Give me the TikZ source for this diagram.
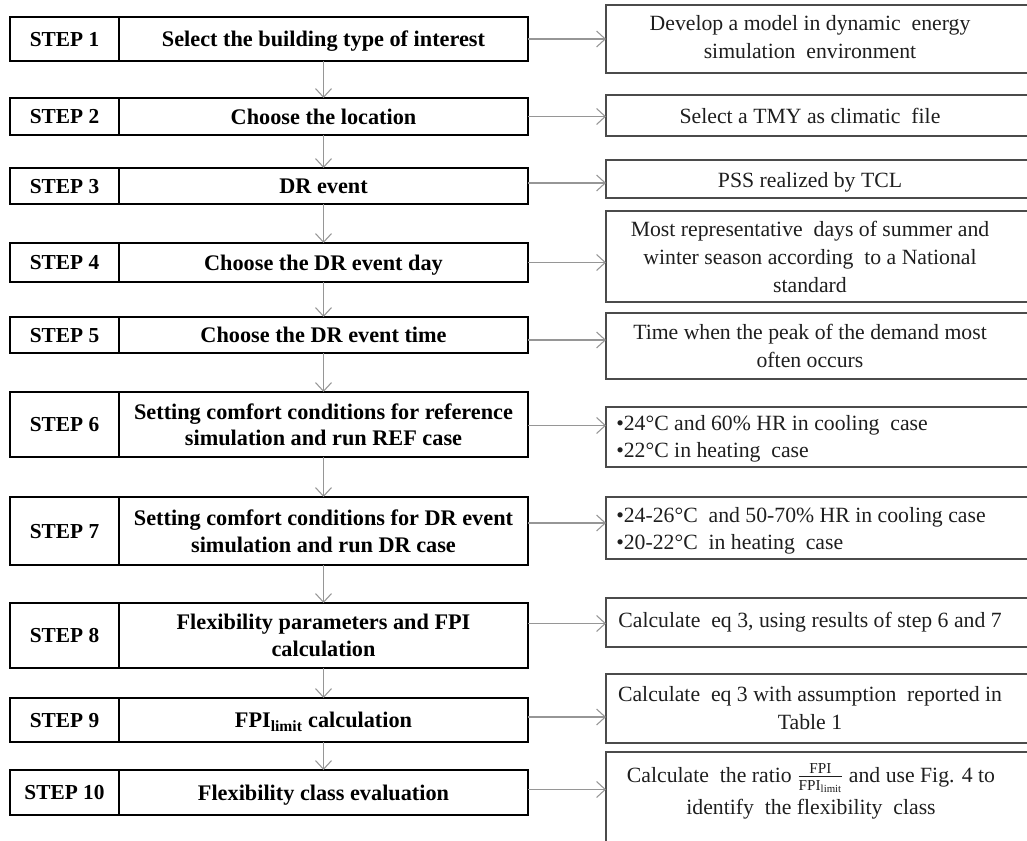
\documentclass[tikz,border=0pt]{standalone}
\usepackage{fontspec}
\setmainfont{Liberation Serif}
\usetikzlibrary{arrows.meta}
\definecolor{arrgray}{RGB}{150,150,150}
\definecolor{boxgray}{RGB}{75,75,75}
\definecolor{txtgray}{RGB}{30,30,30}
\newcommand\stepblock[4]{%
  \node[lab, minimum height={(#3-#2)*0.75pt}] (s#1) at (10,#2) {STEP #1};
  \node[mainb, minimum height={(#3-#2)*0.75pt}] (m#1) at (119,#2) {#4};}
\newcommand\rblock[5]{%
  \node[rbox, minimum height={(#3-#2)*0.75pt}] (r#1) at (606,#2) {};
  \node[rtext] (t#1) at (810,{(#2+#3)/2+#5}) {#4};}
\newcommand\harr[2]{%
  \path (m#1.east) ++(0,#2) coordinate (a#1);
  \draw[arr] (a#1) -- (a#1 -| r#1.west);}
\begin{document}
\begin{tikzpicture}[x=0.75pt,y=-0.75pt,
  lab/.style={draw=black, line width=2.2pt, outer sep=0pt, anchor=north west, text depth=0pt,
    minimum width={109*0.75pt}, inner sep=0pt, font=\fontsize{16}{20}\selectfont\bfseries},
  mainb/.style={draw=black, line width=2.2pt, outer sep=0pt, anchor=north west, text depth=0pt,
    minimum width={409*0.75pt}, inner sep=0pt, align=center, font=\fontsize{16.7}{20}\selectfont\bfseries},
  rbox/.style={draw=boxgray, line width=1.1pt, outer sep=0pt, anchor=north west,
    minimum width={440*0.75pt}, inner sep=0pt},
  rtext/.style={align=center, inner sep=0pt, text=txtgray, font=\fontsize{16.3}{21}\selectfont},
  btext/.style={align=left, anchor=west, inner sep=0pt, text=txtgray, font=\fontsize{16.3}{20}\selectfont},
  arr/.style={draw=arrgray, line width=0.8pt, -{Straight Barb[length=6.5pt,width=12pt]}},
]
\useasboundingbox (0,0) rectangle (1027,841);
\clip (0,0) rectangle (1027,841);

\stepblock{1}{17}{61}{Select the building type of interest}
\stepblock{2}{98}{135}{Choose the location}
\stepblock{3}{168}{204}{DR event}
\stepblock{4}{243}{282}{Choose the DR event day}
\stepblock{5}{317}{353}{Choose the DR event time}
\stepblock{6}{392}{457}{Setting comfort conditions for reference\\simulation and run REF case}
\stepblock{7}{497}{565}{Setting comfort conditions for DR event\\simulation and run DR case}
\stepblock{8}{603}{668}{Flexibility parameters and FPI\\calculation}
\stepblock{9}{698}{742}{FPI\textsubscript{limit} calculation}
\stepblock{10}{770}{815}{Flexibility class evaluation}

\rblock{1}{5}{73}{Develop a model in dynamic \ energy\\simulation \ environment}{-2}
\rblock{2}{95}{136}{Select a TMY as climatic \ file}{0}
\rblock{3}{160}{198}{PSS realized by TCL}{3}
\rblock{4}{211}{302}{Most representative \ days of summer and\\winter season according \ to a National\\standard}{0}
\rblock{5}{313}{379}{Time when the peak of the demand most\\often occurs}{0}
\node[rbox, minimum height={60*0.75pt}] (r6) at (606,407) {};
\node[btext] (t6) at (616,439) {•24°C and 60\% HR in cooling \ case\\•22°C in heating \ case};
\node[rbox, minimum height={62*0.75pt}] (r7) at (606,497) {};
\node[btext] (t7) at (616,531) {•24-26°C \ and 50-70\% HR in cooling case\\•20-22°C \ in heating \ case};
\rblock{8}{598}{647}{Calculate \ eq 3, using results of step 6 and 7}{0}
\rblock{9}{674}{743}{Calculate \ eq 3 with assumption \ reported in\\Table 1}{0}
\node[rbox, minimum height={110*0.75pt}] (r10) at (606,752) {};
\node[rtext] (t10) at (811,791) {Calculate \ the ratio $\frac{\mathrm{FPI}}{\mathrm{FPI}_{\mathrm{limit}}}$ and use Fig. 4 to\\[3pt]identify \ the flexibility \ class};

\foreach \i/\j in {1/2,2/3,3/4,4/5,5/6,6/7,7/8,8/9,9/10}
  \draw[arr] (m\i.south) -- (m\j.north);

\harr{1}{0}
\harr{2}{0}
\harr{3}{-3}
\harr{4}{0}
\harr{5}{5}
\harr{6}{1}
\harr{7}{-8}
\harr{8}{-12}
\harr{9}{-3}
\harr{10}{-3}
\end{tikzpicture}
\end{document}
